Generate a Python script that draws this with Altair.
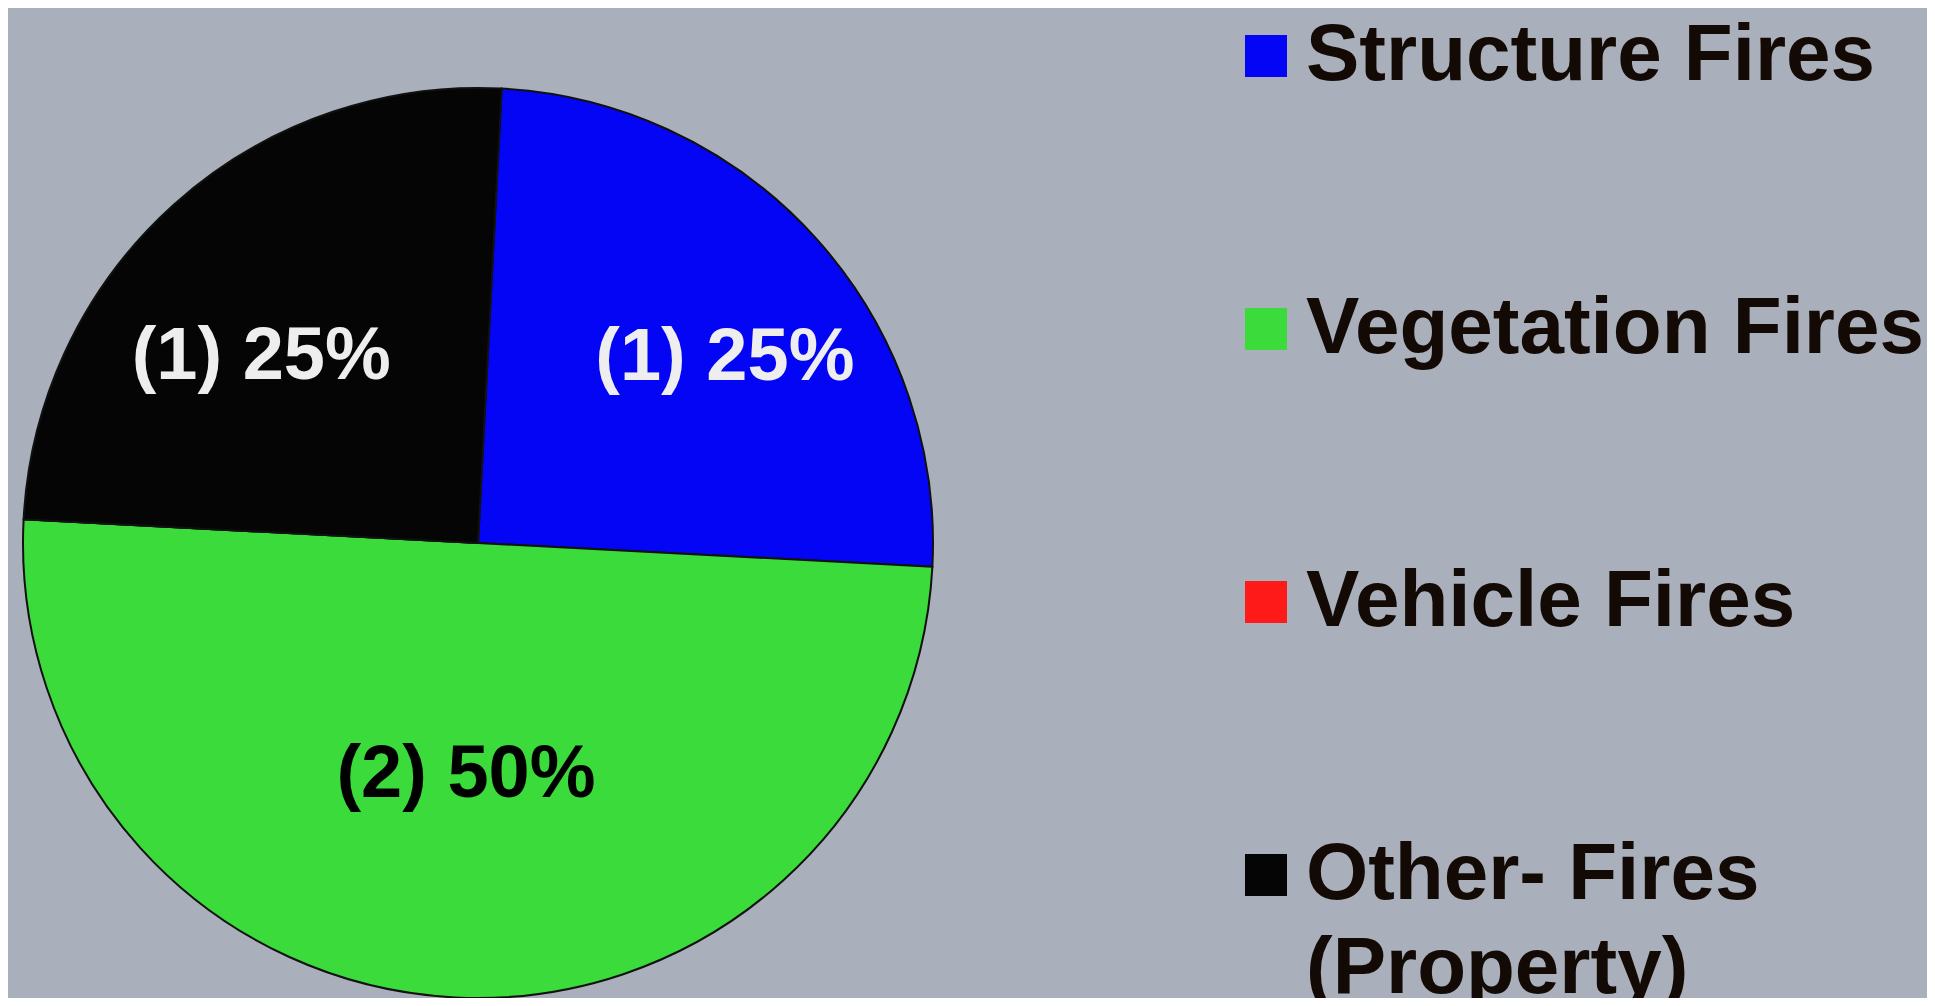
import math
import altair as alt
import pandas as pd

categories = ["Structure Fires", "Vegetation Fires", "Vehicle Fires", "Other- Fires (Property)"]
counts = [1, 2, 0, 1]
percents = [25, 50, 0, 25]
slice_colors = ["#0505f5", "#3adb3a", "#ff1a1a", "#050505"]

df = pd.DataFrame({
    "category": categories,
    "count": counts,
    "pct": percents,
    "order": list(range(len(categories))),
})
df["label"] = [f"({c}) {p}%" for c, p in zip(counts, percents)]

start = 0.052  # slight clockwise rotation of the first slice
theta_scale = alt.Scale(range=[start, start + 2 * math.pi])

base = alt.Chart(df).encode(
    theta=alt.Theta("count:Q", stack=True, scale=theta_scale),
    order=alt.Order("order:Q"),
)

pie = base.mark_arc(radius=455, stroke="#111111", strokeWidth=2).encode(
    color=alt.Color(
        "category:N",
        scale=alt.Scale(domain=categories, range=slice_colors),
        sort=categories,
        legend=alt.Legend(
            orient="none",
            legendX=1218,
            legendY=-72,
            title=None,
            symbolType="square",
            symbolSize=1764,
            symbolStrokeWidth=0,
            labelFontSize=80,
            labelFont="Liberation Sans",
            labelFontWeight="bold",
            labelColor="#140a05",
            labelLimit=1200,
            labelOffset=0,
            rowPadding=193,
            padding=0,
            labelExpr="datum.label === 'Other- Fires (Property)' ? ['Other- Fires', '(Property)'] : datum.label",
        ),
    )
)

text = base.transform_filter("datum.count > 0").mark_text(
    radius=alt.expr("datum.category === 'Vegetation Fires' ? 232 : 300"),
    dx=alt.expr("datum.category === 'Structure Fires' ? 24 : datum.category === 'Vegetation Fires' ? 0 : -16"),
    dy=alt.expr("datum.category === 'Structure Fires' ? 16 : datum.category === 'Vegetation Fires' ? 0 : 37"),
    font="Liberation Sans",
    fontWeight="bold",
    fontSize=74,
    align="center",
    baseline="middle",
).encode(
    text="label:N",
    detail="category:N",
    color=alt.condition(
        "datum.category === 'Vegetation Fires'",
        alt.value("#000000"),
        alt.value("#eeeeee"),
    ),
)

chart = (
    alt.layer(pie, text)
    .properties(
        width=940,
        height=910,
        padding={"left": 0, "top": 80, "right": 979, "bottom": 0},
        autosize=alt.AutoSizeParams(type="none"),
        background="#a9b0bc",
    )
    .configure_view(stroke=None)
    .configure(style={"guide-label": {"lineHeight": 94}})
)

chart.save("out.html", embed_options={"renderer": "svg", "actions": False})
